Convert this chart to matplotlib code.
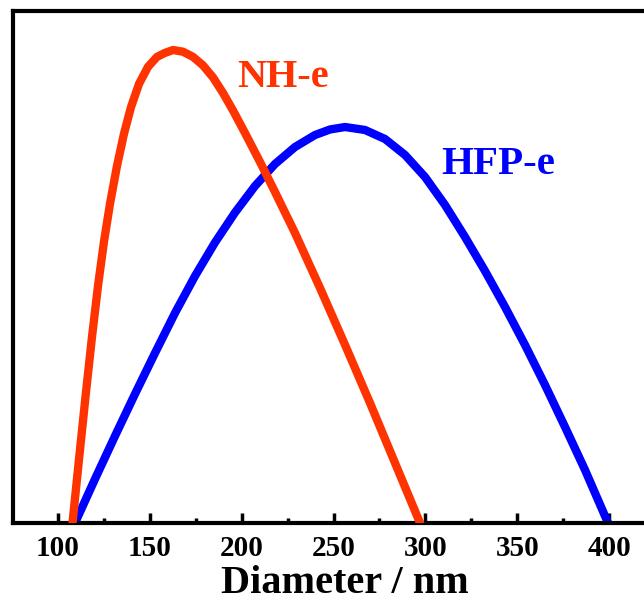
import numpy as np
import matplotlib
matplotlib.use("Agg")
import matplotlib.pyplot as plt
from matplotlib.ticker import MultipleLocator

# NH-e size distribution
nh_d = [107.89, 111.43, 115.24, 118.51, 121.78, 125.04, 128.31, 132.12, 135.93,
        139.74, 144.10, 149.00, 153.90, 158.26, 162.61, 168.06, 173.50, 178.94,
        184.39, 189.83, 195.28, 201.81, 209.98, 218.14, 229.03, 242.65, 256.26,
        269.87, 283.48, 297.09]
nh_y = [0.0, 0.1244, 0.2557, 0.3635, 0.4631, 0.5498, 0.6236, 0.6975, 0.7604,
        0.8123, 0.8576, 0.8910, 0.9104, 0.9182, 0.9238, 0.9205, 0.9104, 0.8938,
        0.8703, 0.8400, 0.8057, 0.7617, 0.7051, 0.6465, 0.5664, 0.4590, 0.3480,
        0.2344, 0.1172, 0.0]

# HFP-e size distribution
hfp_d = [109.26, 120.14, 131.03, 141.92, 152.81, 163.70, 174.59, 185.48, 196.37,
         207.26, 218.15, 229.04, 239.93, 248.09, 256.26, 267.15, 278.04, 288.93,
         299.82, 310.70, 321.59, 332.48, 343.37, 354.26, 365.15, 376.04, 386.93,
         399.45]
hfp_y = [0.0, 0.0859, 0.1699, 0.2520, 0.3320, 0.4102, 0.4824, 0.5479, 0.6064,
         0.6582, 0.7012, 0.7344, 0.7578, 0.7686, 0.7734, 0.7676, 0.7500, 0.7188,
         0.6758, 0.6211, 0.5586, 0.4922, 0.4219, 0.3477, 0.2695, 0.1875, 0.1035,
         0.0]

major_ticks = [100, 150, 200, 250, 300, 350, 400]

plt.rcParams['font.family'] = ['Liberation Serif', 'DejaVu Serif']
plt.rcParams['font.weight'] = 'bold'

fig = plt.figure(figsize=(6.44, 6.04), dpi=100)
ax = fig.add_axes([13 / 644, 81 / 604, 637 / 644, 512 / 604])

ax.plot(hfp_d, hfp_y, color='#0000ff', lw=6, solid_joinstyle='round', zorder=2)
ax.plot(nh_d, nh_y, color='#ff3300', lw=6, solid_joinstyle='round', zorder=3)

ax.set_xlim(75.5, 422.3)
ax.set_ylim(0, 1)

ax.text(197.4, 0.870, 'NH-e', color='#ff3300', fontsize=29, fontweight='bold',
        ha='left', va='center')
ax.text(308.5, 0.700, 'HFP-e', color='#0000ff', fontsize=29.5, fontweight='bold',
        ha='left', va='center')

ax.set_xticks(major_ticks)
ax.xaxis.set_minor_locator(MultipleLocator(25))
ax.set_yticks([])
ax.tick_params(axis='x', which='major', direction='in', length=7, width=2.5,
               labelsize=21, pad=9)
ax.tick_params(axis='x', which='minor', direction='in', length=3.5, width=2.5)
for lab in ax.get_xticklabels():
    lab.set_fontweight('bold')

for side in ['left', 'bottom', 'top', 'right']:
    ax.spines[side].set_linewidth(3)

ax.set_xlabel('Diameter / nm', fontsize=29, fontweight='bold', labelpad=3)
ax.xaxis.set_label_coords((345 - 13) / 637, -0.082)

fig.savefig('out.png', dpi=100)
